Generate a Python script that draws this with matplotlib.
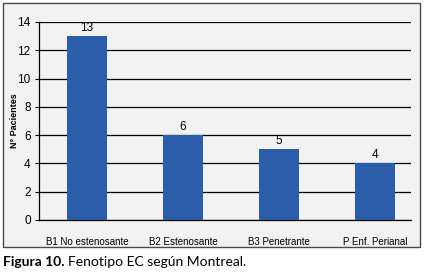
import matplotlib
matplotlib.use("Agg")
import matplotlib.pyplot as plt
from matplotlib.patches import Rectangle

categories = ["B1 No estenosante", "B2 Estenosante", "B3 Penetrante", "P Enf. Perianal"]
values = [13, 6, 5, 4]
yticks = [0, 2, 4, 6, 8, 10, 12, 14]

narrow = ["Liberation Sans Narrow", "Liberation Sans", "DejaVu Sans"]

fig = plt.figure(figsize=(4.25, 2.74), dpi=100)
fig.patch.set_facecolor("white")
frame = Rectangle((3/425, 1 - 247/274), 417/425, 244/274, transform=fig.transFigure,
                  facecolor="#f2f2f2", edgecolor="#4a4a4a", linewidth=1.0, zorder=-5)
fig.add_artist(frame)

ax = fig.add_axes([39/425, 1 - 220/274, 372/425, 198/274])
ax.set_zorder(2)
ax.set_facecolor("none")
x = list(range(len(categories)))
bars = ax.bar(x, values, width=0.42, color="#2B5DAB", zorder=3)
ax.set_xlim(-0.5, 3.375)
ax.set_ylim(0, 14)
ax.set_yticks(yticks)
ax.set_yticklabels([str(t) for t in yticks], family=narrow, fontsize=8.5)
ax.set_xticks(x)
ax.set_xticklabels(categories, family=narrow, fontsize=7)
ax.tick_params(axis="x", length=0, pad=12)
ax.tick_params(axis="y", length=3, width=0.8, pad=3)
ax.grid(axis="y", color="black", linewidth=0.9, zorder=1)
ax.set_axisbelow(True)
for s in ["top", "right"]:
    ax.spines[s].set_visible(False)
ax.spines["left"].set_linewidth(0.9)
ax.spines["bottom"].set_linewidth(0.9)
for xi, v in zip(x, values):
    ax.annotate(str(v), (xi, v), xytext=(0, 1.5), textcoords="offset points",
                ha="center", va="bottom", family=narrow, fontsize=8.5)
ax.set_ylabel("N° Pacientes", family=narrow, fontsize=6.5, fontweight="bold")
ax.yaxis.set_label_coords(-(39 - 19) / 372, 0.5)

t1 = fig.text(3/425, 1 - 262/274, "Figura 10.", family=["Lato", "DejaVu Sans"], fontweight="bold",
              fontsize=10, va="center", ha="left")
fig.canvas.draw()
bb = t1.get_window_extent()
fig.text((bb.x1 + 4) / 425, 1 - 262/274, "Fenotipo EC según Montreal.", family=["Lato", "DejaVu Sans"],
         fontsize=10, va="center", ha="left")

fig.savefig("out.png", dpi=100)
